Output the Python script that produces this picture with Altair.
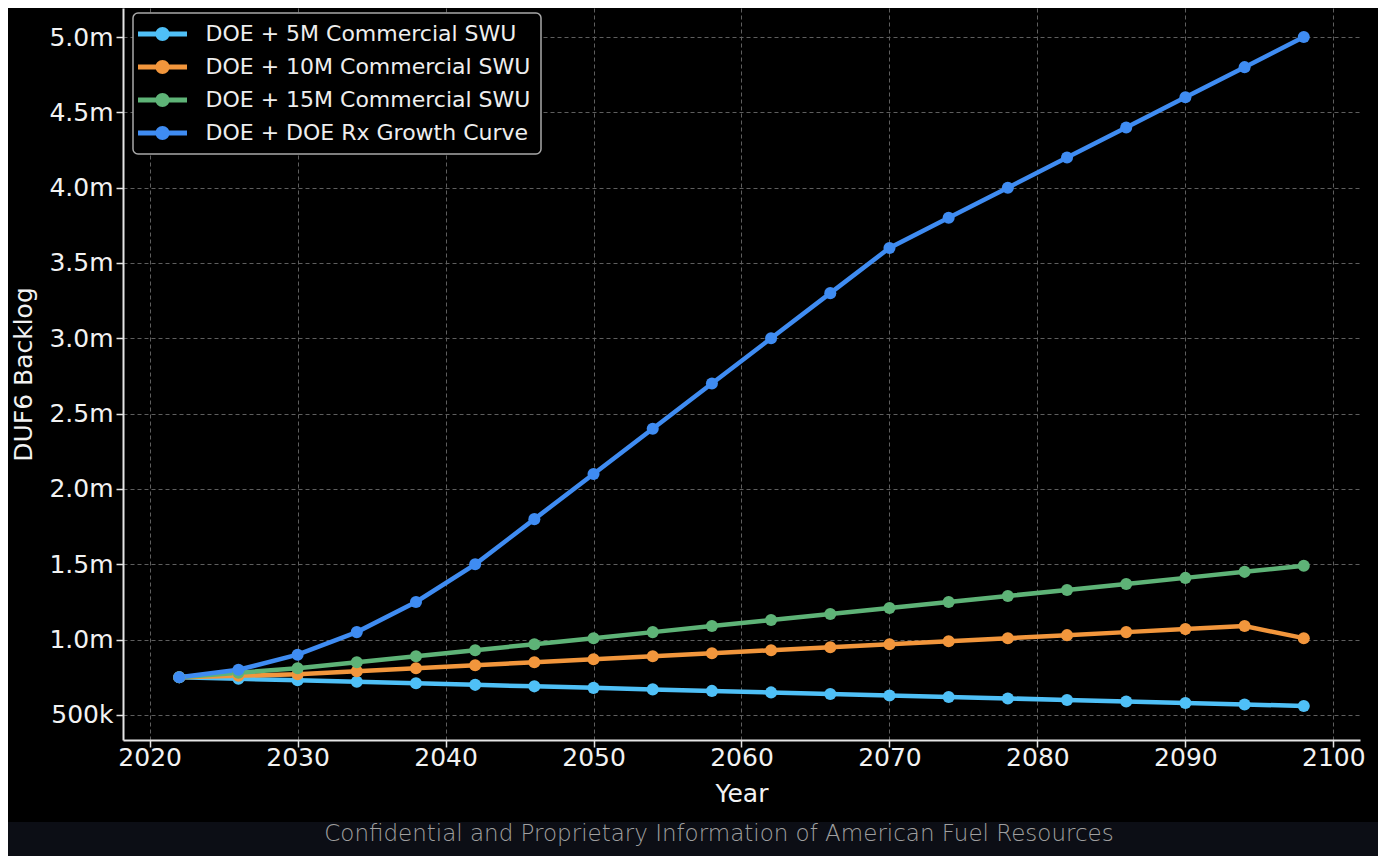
import altair as alt
import pandas as pd

# ---------------- data ----------------
years = [2022, 2026, 2030, 2034, 2038, 2042, 2046, 2050, 2054, 2058,
         2062, 2066, 2070, 2074, 2078, 2082, 2086, 2090, 2094, 2098]
series_names = [
    "DOE + 5M Commercial SWU",
    "DOE + 10M Commercial SWU",
    "DOE + 15M Commercial SWU",
    "DOE + DOE Rx Growth Curve",
]
swu_5m = [750000, 740000, 730000, 720000, 710000, 700000, 690000, 680000, 670000, 660000,
          650000, 640000, 630000, 620000, 610000, 600000, 590000, 580000, 570000, 560000]
swu_10m = [750000, 760000, 770000, 790000, 810000, 830000, 850000, 870000, 890000, 910000,
           930000, 950000, 970000, 990000, 1010000, 1030000, 1050000, 1070000, 1090000, 1010000]
swu_15m = [750000, 780000, 810000, 850000, 890000, 930000, 970000, 1010000, 1050000, 1090000,
           1130000, 1170000, 1210000, 1250000, 1290000, 1330000, 1370000, 1410000, 1450000, 1490000]
rx_growth = [750000, 800000, 900000, 1050000, 1250000, 1500000, 1800000, 2100000, 2400000, 2700000,
             3000000, 3300000, 3600000, 3800000, 4000000, 4200000, 4400000, 4600000, 4800000, 5000000]
colors = ["#4fc0f7", "#f2963c", "#5eb377", "#3f8cf2"]
x_ticks = [2020, 2030, 2040, 2050, 2060, 2070, 2080, 2090, 2100]
y_ticks = [500000, 1000000, 1500000, 2000000, 2500000, 3000000, 3500000, 4000000, 4500000, 5000000]
footer_text = "Confidential and Proprietary Information of American Fuel Resources"

rows = []
for name, vals in zip(series_names, [swu_5m, swu_10m, swu_15m, rx_growth]):
    for yr, v in zip(years, vals):
        rows.append({"year": yr, "value": v, "series": name})
df = pd.DataFrame(rows)
fdf = pd.DataFrame({"t": [footer_text]})

# ---------------- chart ----------------
W, H = 1237, 732
FONT = "DejaVu Sans"

x_enc = alt.X(
    "year:Q",
    scale=alt.Scale(domain=[2018.2, 2101.8], nice=False, zero=False),
    axis=alt.Axis(values=x_ticks, format="d", title="Year", labelPadding=-2, titlePadding=11),
)
y_enc = alt.Y(
    "value:Q",
    scale=alt.Scale(domain=[334000, 5192500], nice=False, zero=False),
    axis=alt.Axis(
        values=y_ticks,
        title="DUF6 Backlog",
        labelPadding=3,
        titlePadding=12,
        labelExpr="datum.value < 1000000 ? format(datum.value/1000, 'd') + 'k' : format(datum.value/1000000, '.1f') + 'm'",
    ),
)

symbol_path = ("M-3.5,-0.34 L3.5,-0.34 L3.5,0.34 L-3.5,0.34 Z "
               "M1,0 A1,1 0 1,1 -1,0 A1,1 0 1,1 1,0 Z")

legend = alt.Legend(
    title=None,
    orient="none",
    legendX=10,
    legendY=5,
    symbolType=symbol_path,
    symbolSize=196,
    symbolStrokeWidth=0,
    symbolOpacity=1,
    symbolOffset=8.5,
    labelOffset=32,
    labelFontSize=22,
    labelFont=FONT,
    labelColor="#eeeeee",
    labelLimit=600,
    rowPadding=11,
)

lines = alt.Chart(df).mark_line(strokeWidth=4.5).encode(
    x=x_enc,
    y=y_enc,
    stroke=alt.Stroke("series:N", scale=alt.Scale(domain=series_names, range=colors), legend=legend),
)

points = alt.Chart(df).mark_circle(size=145, opacity=1).encode(
    x=x_enc,
    y=y_enc,
    fill=alt.Fill("series:N", scale=alt.Scale(domain=series_names, range=colors), legend=legend),
)

footer_band = alt.Chart(fdf).mark_rect(color="#0c0e15").encode(
    x=alt.value(-140), x2=alt.value(1300), y=alt.value(814), y2=alt.value(900)
)
footer = alt.Chart(fdf).mark_text(
    font="DejaVu Sans", fontSize=23, fontWeight=200,
    color="#a0a0a0", align="center", baseline="middle",
).encode(x=alt.value(596), y=alt.value(826), text="t:N")

chart = alt.layer(footer_band, footer, lines, points).properties(
    width=W,
    height=H,
    autosize=alt.AutoSizeParams(type="none"),
    padding={"left": 115, "top": 0, "right": 18, "bottom": 116},
    background="#000000",
).configure_view(stroke=None).configure_axis(
    labelFont=FONT,
    titleFont=FONT,
    labelFontSize=25,
    titleFontSize=25,
    titleFontWeight="normal",
    labelColor="#f2f2f2",
    titleColor="#f2f2f2",
    domainColor="#e6e6e6",
    domainWidth=2,
    tickColor="#e6e6e6",
    tickSize=7,
    tickWidth=1.5,
    grid=True,
    gridColor="#5e5e5e",
    gridDash=[4, 3],
    gridWidth=1,
).configure_legend(
    strokeColor="#a8a8a8",
    strokeWidth=1.5,
    cornerRadius=5,
    fillColor="#000000",
    padding=10,
)

chart.save("out.html", embed_options={"renderer": "svg", "actions": False})
